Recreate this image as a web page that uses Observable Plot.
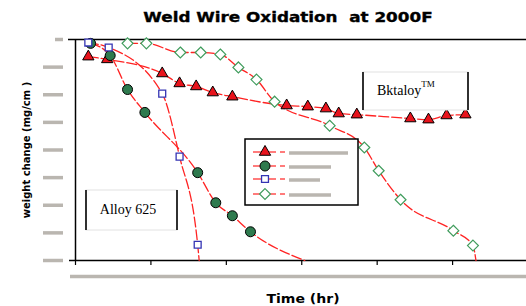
<!DOCTYPE html>
<html><head><meta charset="utf-8">
<script src="https://cdn.jsdelivr.net/npm/d3@7"></script>
<script src="https://cdn.jsdelivr.net/npm/@observablehq/plot@0.6"></script>
<style>body{margin:0;background:#fff}svg{display:block}</style>
</head><body><div id="chart"></div>
<script>
// ---- data (units: x = tick steps, y = tick steps below zero) ----
const xTicks = [0, 1, 2, 3, 4, 5];
const yTicks = [0, -1, -2, -3, -4, -5, -6, -7, -8];

const triT = [0.17,0.42,1.15,1.38,1.60,1.82,2.08,2.80,3.08,3.32,3.49,3.73,4.44,4.68,4.92,5.17];
const triW = [-0.62,-0.72,-1.23,-1.59,-1.70,-1.92,-2.07,-2.39,-2.43,-2.50,-2.68,-2.72,-2.86,-2.90,-2.75,-2.72];

const cirT = [0.20,0.46,0.69,0.92,1.62,1.86,2.08,2.32];
const cirW = [-0.14,-0.58,-1.81,-2.64,-4.82,-5.91,-6.38,-6.96];
const cirEnd = [3.04, -8];

const sqT = [0.17,0.44,1.15,1.38,1.62];
const sqW = [-0.11,-0.29,-1.96,-4.24,-7.43];
const sqEnd = [1.64, -8];

const diaT = [0.69,0.94,1.39,1.66,1.92,2.16,2.40,2.64,3.37,3.83,4.02,4.31,5.01,5.27];
const diaW = [-0.14,-0.14,-0.47,-0.47,-0.54,-1.01,-1.45,-2.25,-3.12,-3.91,-4.75,-5.80,-6.92,-7.46];
const diaEnd = [5.31, -8];

const seriesKeys = ["tri", "cir", "sq", "dia"];

// ---- tables ----
const pts = [], lineRows = [];
function add(s, T, W, end) {
  T.forEach((t, i) => { pts.push({s, t, w: W[i]}); lineRows.push({s, t, w: W[i]}); });
  if (end) lineRows.push({s, t: end[0], w: end[1]});
}
add("tri", triT, triW);
add("cir", cirT, cirW, cirEnd);
add("sq", sqT, sqW, sqEnd);
add("dia", diaT, diaW, diaEnd);

const RED = "#ff2323", GRAY = "#bab6b0";
const sty = {
  tri: {symbol: "triangle", r: 4.2, fill: "#e8131c", stroke: "#000", strokeWidth: 1},
  cir: {symbol: "circle", r: 5, fill: "#2e7a4e", stroke: "#000", strokeWidth: 1},
  sq:  {symbol: "square", r: 3.9, fill: "#fff", stroke: "#3434b4", strokeWidth: 1.3},
  dia: {symbol: "diamond2", r: 4.9, fill: "#fff", stroke: "#3f9c5c", strokeWidth: 1.2}
};

const svg = Plot.plot({
  width: 526, height: 306,
  marginTop: 39, marginBottom: 46, marginLeft: 75, marginRight: 0,
  x: {domain: [0, 5.98]},
  y: {domain: [-8, 0]},
  style: {background: "#fff", overflow: "visible"},
  marks: [
    // placeholder tick labels (gray bars) on y
    Plot.axisY(yTicks.slice(1), {tickSize: 20, dx: -12, tickFormat: () => "", label: null, stroke: GRAY, strokeWidth: 3.5}),
    Plot.axisY(yTicks.slice(0, 1), {tickSize: 8, dx: -12, tickFormat: () => "", label: null, stroke: GRAY, strokeWidth: 3.5}),
    // x ticks
    Plot.axisX(xTicks, {tickSize: 5, tickFormat: () => "", label: null, stroke: "#000", strokeWidth: 1.2}),
    // placeholder x tick label row
    Plot.ruleY([yTicks[yTicks.length - 1]], {dy: 16, insetLeft: -5, stroke: GRAY, strokeWidth: 3.5}),
    // frame lines
    Plot.ruleY([yTicks[0]], {insetLeft: -7, stroke: "#000", strokeWidth: 1.5}),
    Plot.ruleY([yTicks[yTicks.length - 1]], {insetLeft: -6, stroke: "#000", strokeWidth: 1.5}),
    Plot.ruleX([xTicks[0]], {stroke: "#000", strokeWidth: 1.5}),
    // curves
    Plot.line(lineRows, {x: "t", y: "w", z: "s", stroke: RED, strokeWidth: 1.3, strokeDasharray: "10,3", curve: "monotone-x"}),
    // markers
    ...["tri", "dia", "cir", "sq"].map(k =>
      Plot.dot(pts.filter(d => d.s === k), {x: "t", y: "w", ...sty[k]}))
  ]
});
document.getElementById("chart").appendChild(svg);

// ---- chrome: title, labels, boxes, legend ----
const g = d3.select(svg).append("g").attr("text-anchor", "start");
g.append("text").attr("transform", "translate(288,22) scale(1.2,1)").attr("text-anchor", "middle")
  .attr("font-family", "DejaVu Sans").attr("font-weight", "bold").attr("font-size", 14)
  .attr("stroke", "#000").attr("stroke-width", 0.35)
  .text("Weld Wire Oxidation  at 2000F");
g.append("text").attr("transform", "translate(303,303) scale(1.08,1)").attr("text-anchor", "middle")
  .attr("font-family", "DejaVu Sans").attr("font-weight", "bold").attr("font-size", 13)
  .text("Time (hr)");
g.append("text").attr("transform", "translate(30,150) rotate(-90)").attr("text-anchor", "middle")
  .attr("font-family", "DejaVu Sans").attr("font-weight", "bold").attr("font-size", 10)
  .text("weight change (mg/cm )");

function box(x, y, w, h) {
  g.append("rect").attr("x", x).attr("y", y).attr("width", w).attr("height", h)
    .attr("fill", "#fff").attr("stroke", "#e2e2e2").attr("stroke-width", 1);
  g.append("line").attr("x1", x).attr("x2", x).attr("y1", y).attr("y2", y + h).attr("stroke", "#000").attr("stroke-width", 1.6);
  g.append("line").attr("x1", x + w).attr("x2", x + w).attr("y1", y).attr("y2", y + h).attr("stroke", "#000").attr("stroke-width", 1.6);
}
box(86, 190, 91, 40);
g.append("text").attr("x", 128).attr("y", 214).attr("text-anchor", "middle")
  .attr("font-family", "Liberation Serif").attr("font-size", 14).text("Alloy 625");
box(363, 72, 105, 38);
const bk = g.append("text").attr("x", 377).attr("y", 95).attr("text-anchor", "start")
  .attr("font-family", "Liberation Serif").attr("font-size", 14);
bk.append("tspan").text("Bktaloy");
bk.append("tspan").attr("font-size", 9).attr("dy", -8).text("TM");

// legend
g.append("rect").attr("x", 245).attr("y", 139).attr("width", 113).attr("height", 66)
  .attr("fill", "#fff").attr("stroke", "#000").attr("stroke-width", 1.5);
const rowsY = [152, 166, 179, 194];
const barEnd = [348, 331, 320, 331];
const symMap = {triangle: d3.symbolTriangle, circle: d3.symbolCircle, square: d3.symbolSquare, diamond2: d3.symbolDiamond2};
seriesKeys.forEach((k, i) => {
  const y = rowsY[i], s = sty[k];
  g.append("line").attr("x1", 253).attr("x2", 276).attr("y1", y).attr("y2", y).attr("stroke", RED).attr("stroke-width", 1.2);
  g.append("line").attr("x1", 280).attr("x2", 285).attr("y1", y).attr("y2", y).attr("stroke", RED).attr("stroke-width", 1.2);
  g.append("path").attr("transform", `translate(265,${y})`)
    .attr("d", d3.symbol(symMap[s.symbol], Math.PI * s.r * s.r)())
    .attr("fill", s.fill).attr("stroke", s.stroke).attr("stroke-width", s.strokeWidth);
  g.append("line").attr("x1", 289).attr("x2", barEnd[i]).attr("y1", y + 1).attr("y2", y + 1).attr("stroke", GRAY).attr("stroke-width", 3.5);
});
</script>
</body></html>
